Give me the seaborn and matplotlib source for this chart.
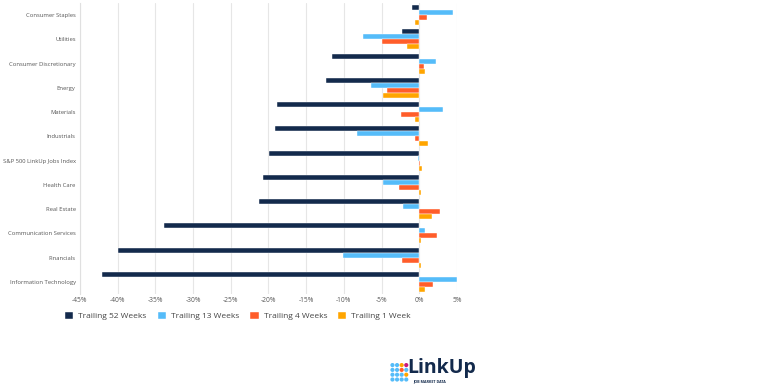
"""Изменение вакансий S&P 500 по секторам за разные окна (LinkUp)."""
import matplotlib
matplotlib.use("Agg")
import matplotlib.pyplot as plt
import numpy as np
import pandas as pd
import seaborn as sns
from matplotlib.ticker import FuncFormatter, MultipleLocator

sectors = [
    "Consumer Staples", "Utilities", "Consumer Discretionary", "Energy",
    "Materials", "Industrials", "S&P 500 LinkUp Jobs Index", "Health Care",
    "Real Estate", "Communication Services", "Financials",
    "Information Technology",
]
periods = ["Trailing 52 Weeks", "Trailing 13 Weeks", "Trailing 4 Weeks", "Trailing 1 Week"]

trailing_52w = [-0.9, -2.3, -11.6, -12.4, -18.8, -19.1, -19.9, -20.7, -21.3, -33.9, -39.9, -42.1]
trailing_13w = [4.5, -7.4, 2.2, -6.4, 3.1, -8.3, -0.2, -4.8, -2.1, 0.8, -10.1, 5.0]
trailing_4w = [1.0, -4.9, 0.6, -4.3, -2.4, -0.5, 0.05, -2.7, 2.8, 2.3, -2.3, 1.8]
trailing_1w = [-0.5, -1.6, 0.8, -4.8, -0.5, 1.2, 0.35, 0.2, 1.7, 0.2, 0.2, 0.8]

colors = ["#132a4c", "#55bcf9", "#ff5d2a", "#ffa500"]

df = pd.DataFrame({
    "sector": sectors * 4,
    "period": np.repeat(periods, len(sectors)),
    "value": trailing_52w + trailing_13w + trailing_4w + trailing_1w,
})

sns.set_style("white")
plt.rcParams["font.family"] = ["Open Sans", "DejaVu Sans"]

fig = plt.figure(figsize=(7.68, 3.85), dpi=100)
ax = fig.add_axes([0.104, 0.2364, 0.491, 0.7558])

sns.barplot(
    data=df, y="sector", x="value", hue="period", order=sectors,
    hue_order=periods, palette=colors, saturation=1, orient="h", width=0.82,
    edgecolor="white", linewidth=0.3, ax=ax,
)

ax.set_xlim(-45, 5)
ax.xaxis.set_major_locator(MultipleLocator(5))
ax.xaxis.set_major_formatter(FuncFormatter(lambda v, _: f"{v:.0f}%"))
ax.grid(axis="x", color="#e6e6e6", linewidth=0.8)
ax.set_axisbelow(True)
ax.axvline(0, color="#bbbbbb", linewidth=0.6, zorder=0.5)
ax.set_xlabel("")
ax.set_ylabel("")
for side in ["top", "right", "bottom"]:
    ax.spines[side].set_visible(False)
ax.spines["left"].set_color("#e0e0e0")
ax.spines["left"].set_linewidth(0.8)
ax.tick_params(axis="y", length=2, width=0.6, color="#666666", pad=1,
               labelsize=4.2, labelcolor="#555555")
ax.tick_params(axis="x", length=0, pad=2, labelsize=4.8, labelcolor="#555555")

handles, labels = ax.get_legend_handles_labels()
ax.legend_.remove()
fig.legend(handles, labels, loc="center left", bbox_to_anchor=(0.075, 0.179),
           ncol=4, frameon=False, fontsize=6, handlelength=1.0,
           handleheight=1.0, columnspacing=1.3, handletextpad=0.6,
           labelcolor="#444444")

# логотип LinkUp: сетка точек 4x4 + надпись
logo = fig.add_axes([0.508, 0.008, 0.024, 0.05])
gx, gy = np.meshgrid(np.arange(4), np.arange(4))
dot_colors = np.full(gx.shape, "#55bcf9", dtype=object)
dot_colors[3, 3] = "#c8197a"
dot_colors[3, 2] = "#ffa500"
dot_colors[2, 2] = "#ff5d2a"
dot_colors[1, 3] = "#ffa500"
logo.scatter(gx.ravel(), gy.ravel(), c=list(dot_colors.ravel()), s=9,
             marker="o", linewidths=0)
logo.set_xlim(-0.5, 3.5)
logo.set_ylim(-0.5, 3.5)
logo.axis("off")
fig.text(0.530, 0.045, "LinkUp", fontsize=14, fontweight="bold",
         color="#132a4c", va="center", ha="left")
fig.text(0.538, 0.010, "JOB MARKET DATA", fontsize=2.6, fontweight="bold",
         color="#132a4c", va="center", ha="left")

fig.savefig("out.png", dpi=100, facecolor="white")
